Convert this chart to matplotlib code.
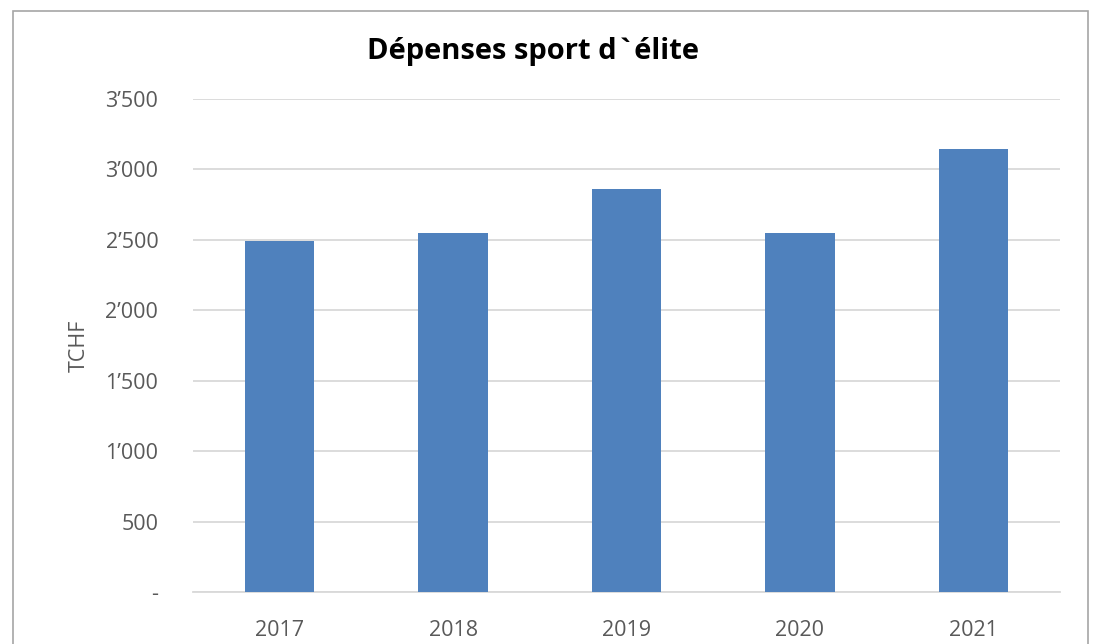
"""Dépenses sport d'élite: simple Excel-style column chart."""

import matplotlib

matplotlib.use("Agg")
import matplotlib.pyplot as plt  # noqa: E402
from matplotlib.patches import Rectangle  # noqa: E402
from matplotlib.ticker import FuncFormatter, MultipleLocator  # noqa: E402

years = ["2017", "2018", "2019", "2020", "2021"]
spend = [2490, 2550, 2860, 2550, 3145]

W, H, DPI = 1093, 644, 100
BAR = "#4F81BD"
GRID = "#D9D9D9"
TXT = "#595959"

plt.rcParams["font.family"] = ["Open Sans", "DejaVu Sans"]

fig = plt.figure(figsize=(W / DPI, H / DPI), dpi=DPI)
ax = fig.add_axes([193 / W, 1 - 592 / H, (1060 - 193) / W, (592 - 99) / H])

ax.bar(range(len(years)), spend, width=0.4, color=BAR, zorder=3)
ax.set_xlim(-0.5, len(years) - 0.5)
ax.set_ylim(0, 3500)
ax.yaxis.set_major_locator(MultipleLocator(500))


def fmt(v, _pos):
    if v == 0:
        return "-"
    v = int(round(v))
    if v >= 1000:
        return f"{v // 1000}\u2019{v % 1000:03d}"
    return str(v)


ax.yaxis.set_major_formatter(FuncFormatter(fmt))
ax.set_xticks(range(len(years)))
ax.set_xticklabels(years)

ax.grid(axis="y", color=GRID, linewidth=1.3, zorder=0)
for s in ("top", "right", "left"):
    ax.spines[s].set_visible(False)
ax.spines["bottom"].set_color(GRID)
ax.spines["bottom"].set_linewidth(1.3)
ax.tick_params(length=0, colors=TXT, labelsize=15.5)
ax.tick_params(axis="y", pad=25)
ax.tick_params(axis="x", pad=20)

ax.set_ylabel("TCHF", color=TXT, fontsize=15.5, labelpad=11)

fig.text(533 / W, 1 - 52 / H, "Dépenses sport d`élite", ha="center", va="center",
         fontsize=21, fontweight="bold", color="black")

# outer frame of the chart object
fig.patches.append(Rectangle((13 / W, -0.05), (1088 - 13) / W, 1.05 - 11 / H,
                             transform=fig.transFigure, fill=False,
                             edgecolor="#A6A6A6", linewidth=1.2))

fig.savefig("out.png", dpi=DPI)
